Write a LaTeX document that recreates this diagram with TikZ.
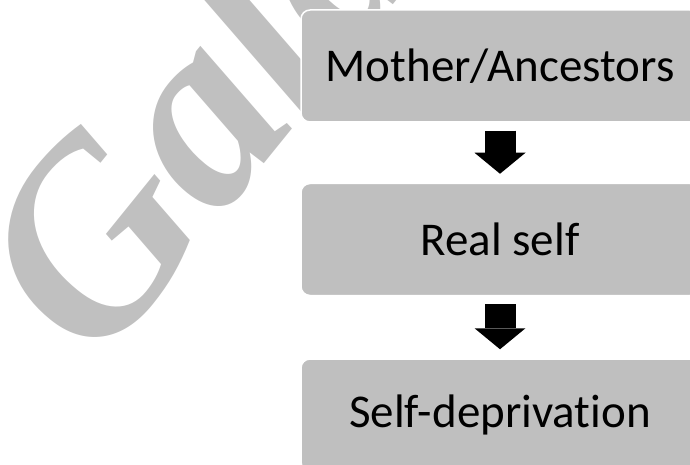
\documentclass[tikz,border=0pt]{standalone}
\usepackage{fontspec}
\setmainfont{Carlito}[Ligatures=NoCommon]
\newfontfamily\markfont{Liberation Serif}
\usetikzlibrary{arrows.meta,positioning}
\definecolor{BoxGray}{HTML}{BFBFBF}
\definecolor{MarkGray}{HTML}{C0C0C0}

\begin{document}
\begin{tikzpicture}[x=1pt, y=1pt,
    stagebox/.style={rounded corners=9pt, fill=BoxGray, draw=white, line width=1.5pt,
        minimum width=398pt, minimum height=112pt, inner sep=0pt,
        font=\fontsize{47}{56}\selectfont},
    flowarrow/.style={-{Triangle[length=21pt, width=51pt, line width=0pt 0 0]},
        line width=31pt, black, shorten <=8pt, shorten >=9pt}]
    \useasboundingbox (0,0) rectangle (690,464);
    \clip (0,0) rectangle (690,464);

    % Watermark behind the chart
    \node[rotate=51, anchor=base west, inner sep=0pt, text=MarkGray,
        font=\markfont\bfseries\itshape\fontsize{264}{264}\selectfont] (mark) at (97,94) {Galaxy};

    % Stages
    \node[stagebox] (mother) at (500,398) {Mother/Ancestors};
    \node[stagebox, below=60pt of mother] (real) {Real self};
    \node[stagebox, below=62pt of real] (deprivation) {Self-deprivation};

    % Block arrows
    \draw[flowarrow] (mother) -- (real);
    \draw[flowarrow] (real) -- (deprivation);
\end{tikzpicture}
\end{document}
